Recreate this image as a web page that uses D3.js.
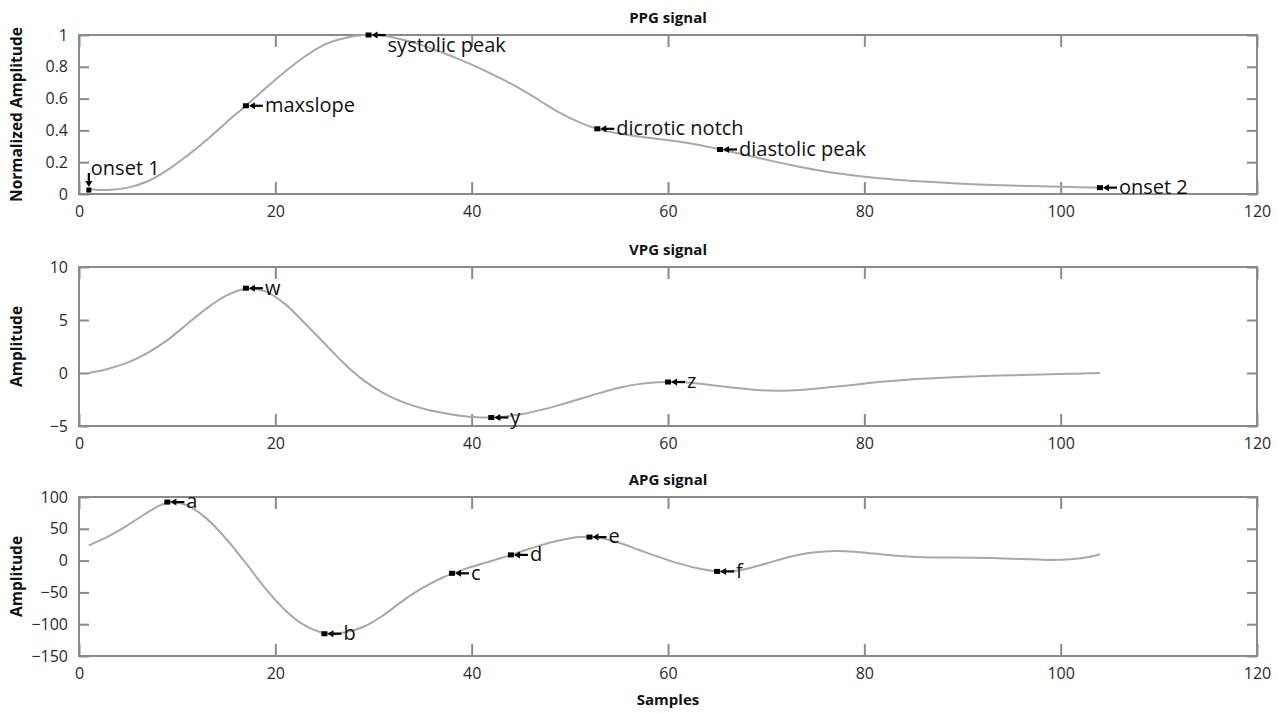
<!DOCTYPE html>
<html>
<head>
<meta charset="utf-8">
<title>PPG, VPG and APG signals</title>
<script src="https://d3js.org/d3.v7.min.js"></script>
<style>
body { margin: 0; background: #fff; }
text { font-family: "Open Sans", sans-serif; }
.frame { fill: none; stroke: #8a8a8a; stroke-width: 2; }
.tick line { stroke: #8a8a8a; stroke-width: 2; }
.domain { display: none; }
.tick text { font-size: 16px; fill: #2a2a2a; font-family: "Open Sans", sans-serif; }
.signal { fill: none; stroke: #a8a8a8; stroke-width: 2; }
.title { font-size: 15px; font-weight: bold; text-anchor: middle; fill: #111; }
.ylab { font-size: 15.5px; font-weight: bold; text-anchor: middle; fill: #111; }
.note { font-size: 20px; fill: #111; }
</style>
</head>
<body>
<svg id="chart" width="1279" height="713"></svg>
<script>
// samples (x) shared ticks
var xTicks = [0, 20, 40, 60, 80, 100, 120];

// PPG signal
var ppgX = [1,3,5,7,9,11,13,15,17,19,21,23,25,27,29,31,33,35,37,39,41,43,45,47,49,51,53,55,57,59,61,63,65,67,69,71,73,75,77,79,81,83,85,87,89,91,93,95,97,99,101,103,104];
var ppgY = [0.03,0.025,0.04,0.08,0.15,0.24,0.34,0.45,0.555,0.665,0.77,0.865,0.94,0.98,1.0,0.995,0.97,0.935,0.89,0.84,0.785,0.725,0.66,0.585,0.51,0.45,0.405,0.38,0.362,0.346,0.33,0.31,0.285,0.258,0.23,0.202,0.176,0.152,0.132,0.116,0.102,0.091,0.082,0.075,0.068,0.062,0.057,0.053,0.05,0.047,0.044,0.041,0.04];
var ppgTicks = [0, 0.2, 0.4, 0.6, 0.8, 1];
var ppgNames = ["onset 1", "maxslope", "systolic peak", "dicrotic notch", "diastolic peak", "onset 2"];
var ppgMarkX = [1, 17, 29.5, 52.8, 65.3, 104];
var ppgMarkY = [0.025, 0.555, 1.0, 0.41, 0.28, 0.04];

// VPG signal
var vpgX = [1,3,5,7,9,11,13,15,17,19,21,23,25,27,29,31,33,35,37,39,41,43,45,47,49,51,53,55,57,59,61,63,65,67,69,71,73,75,77,79,81,83,85,87,89,91,93,95,97,99,101,103,104];
var vpgY = [0,0.4,1.0,1.9,3.1,4.6,6.1,7.3,7.95,7.7,6.5,4.7,2.8,0.9,-0.7,-1.9,-2.75,-3.35,-3.75,-4.05,-4.2,-4.15,-3.9,-3.5,-3.0,-2.45,-1.9,-1.4,-1.05,-0.87,-0.85,-0.98,-1.2,-1.42,-1.6,-1.68,-1.62,-1.48,-1.3,-1.1,-0.9,-0.74,-0.6,-0.49,-0.4,-0.33,-0.27,-0.22,-0.17,-0.12,-0.08,-0.03,0];
var vpgTicks = [-5, 0, 5, 10];
var vpgNames = ["w", "y", "z"];
var vpgMarkX = [17, 42, 60];
var vpgMarkY = [8.0, -4.2, -0.85];

// APG signal
var apgX = [1,3,5,7,9,11,13,15,17,19,21,23,25,27,29,31,33,35,37,39,41,43,45,47,49,51,53,55,57,59,61,63,65,67,69,71,73,75,77,79,81,83,85,87,89,91,93,95,97,99,101,103,104];
var apgY = [24,38,56,76,91,87,66,34,-4,-44,-78,-102,-114,-113,-104,-86,-63,-43,-27,-15,-5,4,14,24,32,37,36,28,17,6,-4,-12,-17,-16,-9,0,8,13,15,14,11,8,6,5,5,4.5,4,3,2,1,2,6,10];
var apgTicks = [-150, -100, -50, 0, 50, 100];
var apgNames = ["a", "b", "c", "d", "e", "f"];
var apgMarkX = [9, 25, 38, 44, 52, 65];
var apgMarkY = [92, -115, -20, 9, 37, -17];

var svg = d3.select("#chart"),
    margin = {left: 79, right: 22},
    panelH = 159;

var x = d3.scaleLinear()
    .domain([0, 120])
    .range([margin.left, 1279 - margin.right]);

var panels = [
  {title: "PPG signal", ylabel: "Normalized Amplitude", top: 35, xs: ppgX, ys: ppgY, ticks: ppgTicks, names: ppgNames, mx: ppgMarkX, my: ppgMarkY},
  {title: "VPG signal", ylabel: "Amplitude", top: 267, xs: vpgX, ys: vpgY, ticks: vpgTicks, names: vpgNames, mx: vpgMarkX, my: vpgMarkY},
  {title: "APG signal", ylabel: "Amplitude", top: 497, xs: apgX, ys: apgY, ticks: apgTicks, names: apgNames, mx: apgMarkX, my: apgMarkY}
];

// label placement tweaks (pixels) for a few annotations
var noteShift = {"systolic peak": [19, 17]};

panels.forEach(function(p) {
  var bottom = p.top + panelH;
  var y = d3.scaleLinear()
      .domain(d3.extent(p.ticks))
      .range([bottom, p.top]);

  var g = svg.append("g");

  g.append("g")
    .attr("transform", "translate(0," + bottom + ")")
    .call(d3.axisBottom(x).tickValues(xTicks).tickSize(-12).tickPadding(12));
  g.append("g")
    .attr("transform", "translate(0," + p.top + ")")
    .call(d3.axisTop(x).tickValues(xTicks).tickSize(-12).tickFormat(""));
  g.append("g")
    .attr("transform", "translate(" + margin.left + ",0)")
    .call(d3.axisLeft(y).tickValues(p.ticks).tickSize(-10).tickPadding(11).tickFormat(d3.format("~g")));
  g.append("g")
    .attr("transform", "translate(" + x.range()[1] + ",0)")
    .call(d3.axisRight(y).tickValues(p.ticks).tickSize(-10).tickFormat(""));

  g.append("rect")
    .attr("class", "frame")
    .attr("x", x.range()[0])
    .attr("y", p.top)
    .attr("width", x.range()[1] - x.range()[0])
    .attr("height", panelH);

  var pts = p.xs.map(function(v, i) { return [v, p.ys[i]]; });
  var line = d3.line()
      .x(d => x(d[0]))
      .y(d => y(d[1]))
      .curve(d3.curveCatmullRom);

  g.append("path")
    .attr("class", "signal")
    .attr("d", line(pts));

  g.append("text")
    .attr("class", "title")
    .attr("x", (x.range()[0] + x.range()[1]) / 2)
    .attr("y", p.top - 12)
    .text(p.title);

  g.append("text")
    .attr("class", "ylab")
    .attr("transform", "translate(17," + (p.top + panelH / 2) + ") rotate(-90)")
    .attr("dy", "0.35em")
    .text(p.ylabel);

  // annotations
  p.names.forEach(function(name, i) {
    var px = x(p.mx[i]), py = y(p.my[i]);
    var m = g.append("g").attr("transform", "translate(" + px + "," + py + ")");
    if (name === "onset 1") {
      m.append("rect").attr("x", -2.5).attr("y", -2.5).attr("width", 5).attr("height", 5).attr("fill", "#000");
      m.append("path").attr("d", "M0,-3L-3.5,-9L3.5,-9Z").attr("fill", "#000");
      m.append("line").attr("x1", 0).attr("x2", 0).attr("y1", -8).attr("y2", -17)
        .attr("stroke", "#000").attr("stroke-width", 2.2);
      m.append("text").attr("class", "note").attr("x", 2).attr("y", -15).text(name);
      return;
    }
    m.append("rect").attr("x", -3).attr("y", -2.5).attr("width", 6).attr("height", 5).attr("fill", "#000");
    m.append("path").attr("d", "M3,0L9,-3.5L9,3.5Z").attr("fill", "#000");
    m.append("line").attr("x1", 8).attr("x2", 17).attr("y1", 0).attr("y2", 0)
      .attr("stroke", "#000").attr("stroke-width", 2.2);
    var s = noteShift[name];
    m.append("text").attr("class", "note")
      .attr("x", s ? s[0] : 19)
      .attr("y", s ? s[1] : 0)
      .attr("dy", s ? 0 : "0.32em")
      .text(name);
  });
});

svg.append("text")
  .attr("class", "title")
  .attr("x", (x.range()[0] + x.range()[1]) / 2)
  .attr("y", 705)
  .text("Samples");
</script>
</body>
</html>
